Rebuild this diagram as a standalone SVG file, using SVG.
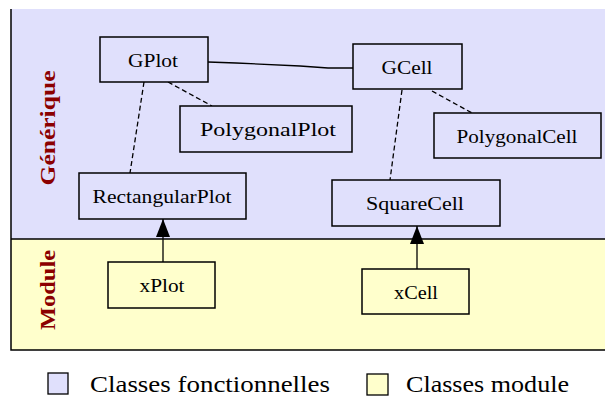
<svg xmlns="http://www.w3.org/2000/svg" width="605" height="396" viewBox="0 0 605 396">
  <defs>
    <style>
      .node rect { stroke: #000; stroke-width: 1.5; }
      .gen rect { fill: #e0e0fc; }
      .mod rect { fill: #ffffcc; }
      .node text { font-size: 19px; fill: #000; text-anchor: middle; }
      .dash { stroke: #000; stroke-width: 1.3; stroke-dasharray: 5 3; fill: none; }
      .solid { stroke: #000; stroke-width: 1.3; fill: none; }
      .side { font-weight: bold; font-size: 22px; fill: #8b0000; text-anchor: middle; }
      .legend { font-size: 23px; fill: #000; }
    </style>
    <marker id="tri" viewBox="0 0 18 14" refX="18" refY="7" markerWidth="18" markerHeight="14" markerUnits="userSpaceOnUse" orient="auto">
      <path d="M0,0 L18,7 L0,14 Z" fill="#000"/>
    </marker>
  </defs>

  <rect width="605" height="396" fill="#fff"/>

  <!-- layer bands -->
  <rect x="11" y="9" width="596" height="230" fill="#e0e0fc"/>
  <rect x="11" y="239" width="596" height="111" fill="#ffffcc"/>
  <path d="M11,9 V350 H607 M11,239 H607" stroke="#000" stroke-width="1.5" fill="none"/>

  <g font-family="'Liberation Serif', 'Times New Roman', serif">
    <text class="side" transform="translate(55,128) rotate(-90)" textLength="115" lengthAdjust="spacingAndGlyphs">Générique</text>
    <text class="side" transform="translate(55,290) rotate(-90)" textLength="80" lengthAdjust="spacingAndGlyphs">Module</text>

    <!-- connectors -->
    <g id="connectors">
      <path class="solid" d="M208,62 L236,63 L300,66 L328,68 L353,68"/>
      <path class="dash" d="M168,82 L212,106"/>
      <path class="dash" d="M144,82 L130,173"/>
      <path class="dash" d="M432,91 L472,113"/>
      <path class="dash" d="M402,90 L390,180"/>
      <path class="solid" d="M163,262 V219" marker-end="url(#tri)"/>
      <path class="solid" d="M417,269 V226" marker-end="url(#tri)"/>
    </g>

    <!-- generic classes -->
    <g id="GPlot" class="node gen">
      <rect x="100" y="37" width="108" height="45"/>
      <text x="153" y="67" textLength="50" lengthAdjust="spacingAndGlyphs">GPlot</text>
    </g>
    <g id="GCell" class="node gen">
      <rect x="353" y="44" width="109" height="45"/>
      <text x="407" y="74" textLength="51" lengthAdjust="spacingAndGlyphs">GCell</text>
    </g>
    <g id="PolygonalPlot" class="node gen">
      <rect x="180" y="106" width="172" height="46"/>
      <text x="268" y="136" textLength="136" lengthAdjust="spacingAndGlyphs">PolygonalPlot</text>
    </g>
    <g id="PolygonalCell" class="node gen">
      <rect x="434" y="113" width="167" height="45"/>
      <text x="517" y="143" textLength="121" lengthAdjust="spacingAndGlyphs">PolygonalCell</text>
    </g>
    <g id="RectangularPlot" class="node gen">
      <rect x="79" y="173" width="167" height="46"/>
      <text x="162" y="203" textLength="139" lengthAdjust="spacingAndGlyphs">RectangularPlot</text>
    </g>
    <g id="SquareCell" class="node gen">
      <rect x="332" y="180" width="168" height="46"/>
      <text x="415" y="210" textLength="98" lengthAdjust="spacingAndGlyphs">SquareCell</text>
    </g>

    <!-- module classes -->
    <g id="xPlot" class="node mod">
      <rect x="108" y="262" width="107" height="46"/>
      <text x="162" y="292" textLength="45" lengthAdjust="spacingAndGlyphs">xPlot</text>
    </g>
    <g id="xCell" class="node mod">
      <rect x="362" y="269" width="107" height="45"/>
      <text x="416" y="299" textLength="44" lengthAdjust="spacingAndGlyphs">xCell</text>
    </g>

    <!-- legend -->
    <rect x="48" y="373" width="20" height="21" fill="#e0e0fc" stroke="#000" stroke-width="1.3"/>
    <text class="legend" x="90" y="392" textLength="240" lengthAdjust="spacingAndGlyphs">Classes fonctionnelles</text>
    <rect x="367" y="374" width="21" height="21" fill="#ffffcc" stroke="#000" stroke-width="1.3"/>
    <text class="legend" x="406" y="392" textLength="163" lengthAdjust="spacingAndGlyphs">Classes module</text>
  </g>
</svg>
